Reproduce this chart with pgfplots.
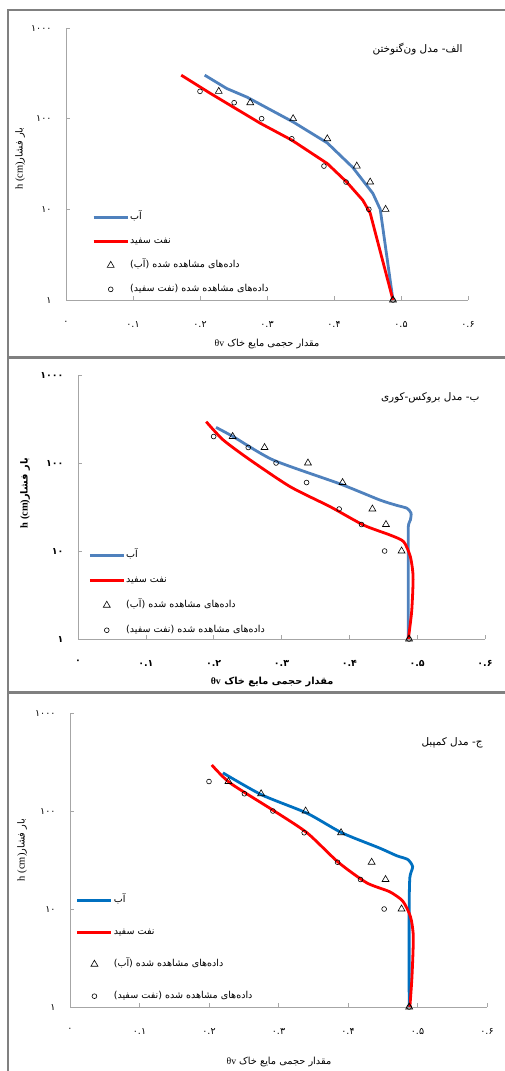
\documentclass[border=0pt]{standalone}
\usepackage{fontspec}
\usepackage{pgfplots}
\pgfplotsset{compat=1.18}
\usepackage{pgfplotstable}
\setmainfont{Liberation Serif}
\newfontfamily\fa[Script=Arabic]{DejaVu Sans}
\TeXXeTstate=1
\definecolor{bluea}{RGB}{79,129,189}
\definecolor{blueb}{RGB}{0,112,192}
\definecolor{redl}{RGB}{255,0,0}
\definecolor{frame}{RGB}{128,128,128}
\newcommand{\fs}[1]{\fontsize{#1}{#1}\selectfont}

% observed data, same in all three panels
\pgfplotstableread{
theta h
0.228 200
0.275 150
0.339 100
0.390 60
0.434 30
0.454 20
0.477 10
0.488 1
}\obswater
\pgfplotstableread{
theta h
0.200 200
0.251 150
0.292 100
0.337 60
0.385 30
0.418 20
0.452 10
0.488 1
}\obskero

\pgfplotsset{
  mypanel/.style={
    scale only axis,
    xmin=0, xmax=0.6, ymin=1, ymax=1000,
    axis lines=left,
    axis line style={-, draw=gray!70, line width=0.8bp},
    tick align=inside,
    major tick length=4bp,
    tick style={draw=gray!70, line width=0.6bp},
    xtick={0,0.1,0.2,0.3,0.4,0.5,0.6},
    xticklabels={۰,۰.۱,۰.۲,۰.۳,۰.۴,۰.۵,۰.۶},
    ytick={1,10,100,1000},
    yticklabels={۱,۱۰,۱۰۰,۱۰۰۰},
    yminorticks=false,
    xticklabel style={yshift=-18bp},
    yticklabel style={xshift=-11bp},
    ticklabel style={font=\fa\fs{9.5}},
    label style={font=\fa\fs{9.8}},
    legend style={draw=none, fill=none, font=\fa\fs{9.6},
      cells={anchor=west}, inner sep=0bp,
      nodes={inner sep=1bp, text height=6bp, text depth=2bp}},
    legend cell align=left,
  },
  mline/.style={line width=2.8bp, no marks,
    legend image code/.code={\draw[##1] (0bp,0bp) -- (34bp,0bp);}},
  wmark/.style={only marks, mark=triangle, mark size=4bp,
    mark options={draw=black, line width=0.6bp},
    legend image code/.code={\draw[##1] plot coordinates {(17bp,0bp)};}},
  kmark/.style={only marks, mark=o, mark size=2.4bp,
    mark options={draw=black, line width=0.6bp},
    legend image code/.code={\draw[##1] plot coordinates {(17bp,0bp)};}},
}

\begin{document}
\begin{tikzpicture}
\useasboundingbox (0,0) rectangle (505bp,-1071bp);
\clip (0,0) rectangle (505bp,-1071bp);

% ---------- panel 1: van Genuchten ----------
\draw[frame, line width=2.5bp] (8bp,-10bp) rectangle (520bp,-357bp);
\begin{axis}[ymode=log, mypanel, at={(66bp,-300bp)}, anchor=south west,
  width=402bp, height=272bp,
  xlabel={\beginR مقدار حجمی مایع خاک \beginL{\rmfamily θv}\endL\endR},
  xlabel style={at={(axis description cs:0.5,-0.162)}, anchor=center},
  ylabel={{\rmfamily\fs{10.5}h (cm)}{\beginR بار فشار\endR}},
  ylabel style={at={(axis description cs:-0.114,0.52)}, anchor=center},
  legend style={at={(0.065,0.323)}, anchor=north west, row sep=14bp}]
\addplot[mline, bluea] coordinates {
  (0.207,302) (0.240,215) (0.270,173) (0.339,92) (0.390,54)
  (0.428,29) (0.458,15) (0.469,10) (0.488,1)};
\addlegendentry{\beginR آب\endR}
\addplot[mline, redl] coordinates {
  (0.172,302) (0.215,191) (0.290,89) (0.337,58) (0.390,32)
  (0.419,20) (0.443,12.6) (0.454,9.1) (0.488,1)};
\addlegendentry{\beginR نفت سفید\endR}
\addplot[wmark] table[x=theta, y=h] {\obswater};
\addlegendentry{\beginR داده^^^^200cهای مشاهده شده (آب)\endR}
\addplot[kmark] table[x=theta, y=h] {\obskero};
\addlegendentry{\beginR داده^^^^200cهای مشاهده شده (نفت سفید)\endR}
\node[anchor=east, font=\fa\fs{10.5}] at (rel axis cs:0.995,0.923)
  {\beginR الف- مدل ون^^^^200cگنوختن\endR};
\end{axis}

% ---------- panel 2: Brooks-Corey ----------
\draw[frame, line width=2.5bp] (8bp,-358bp) rectangle (520bp,-692bp);
\begin{axis}[ymode=log, mypanel, at={(78bp,-639bp)}, anchor=south west,
  width=407bp, height=264bp,
  ticklabel style={font=\fa\bfseries\fs{9.5}},
  label style={font=\fa\bfseries\fs{9.8}},
  xlabel={\beginR مقدار حجمی مایع خاک \beginL{\rmfamily\bfseries θv}\endL\endR},
  xlabel style={at={(axis description cs:0.477,-0.163)}, anchor=center},
  ylabel={{\rmfamily\bfseries\fs{10.5}h (cm)}{\beginR بار فشار\endR}},
  ylabel style={at={(axis description cs:-0.130,0.553)}, anchor=center},
  legend style={at={(0.025,0.337)}, anchor=north west, row sep=15bp}]
\addplot[mline, bluea, smooth, tension=0.4] coordinates {
  (0.2035,254) (0.229,199) (0.288,108) (0.386,58) (0.445,38) (0.470,33)
  (0.485,30.6) (0.491,26.9) (0.490,22.5) (0.487,18.9) (0.487,8) (0.487,1)};
\addlegendentry{\beginR آب\endR}
\addplot[mline, redl, smooth, tension=0.4] coordinates {
  (0.189,295) (0.214,183) (0.254,108) (0.313,53.7) (0.372,31.8)
  (0.421,19.7) (0.460,15.2) (0.480,12.8) (0.490,8.6) (0.494,5.1)
  (0.492,2.1) (0.487,1)};
\addlegendentry{\beginR نفت سفید\endR}
\addplot[wmark] table[x=theta, y=h] {\obswater};
\addlegendentry{\beginR داده^^^^200cهای مشاهده شده (آب)\endR}
\addplot[kmark] table[x=theta, y=h] {\obskero};
\addlegendentry{\beginR داده^^^^200cهای مشاهده شده (نفت سفید)\endR}
\node[anchor=east, font=\fa\fs{10.5}] at (rel axis cs:0.995,0.913)
  {\beginR ب- مدل بروکس-کوری\endR};
\end{axis}

% ---------- panel 3: Campbell ----------
\draw[frame, line width=2.5bp] (8bp,-693bp) rectangle (520bp,-1090bp);
\begin{axis}[ymode=log, mypanel, at={(70bp,-1007bp)}, anchor=south west,
  width=417bp, height=294bp,
  xlabel={\beginR مقدار حجمی مایع خاک \beginL{\rmfamily θv}\endL\endR},
  xlabel style={at={(axis description cs:0.501,-0.187)}, anchor=center},
  ylabel={{\rmfamily\fs{10.5}h (cm)}{\beginR بار فشار\endR}},
  ylabel style={at={(axis description cs:-0.115,0.534)}, anchor=center},
  legend style={at={(0.014,0.381)}, anchor=north west, row sep=22bp}]
\addplot[mline, blueb, smooth, tension=0.4] coordinates {
  (0.220,245) (0.276,146) (0.341,95) (0.391,60) (0.445,42) (0.470,35)
  (0.486,32) (0.493,27) (0.489,21) (0.488,10) (0.488,1)};
\addlegendentry{\beginR آب\endR}
\addplot[mline, redl, smooth, tension=0.4] coordinates {
  (0.204,295) (0.230,194) (0.292,102) (0.341,60) (0.386,30)
  (0.427,18.5) (0.460,15) (0.479,12) (0.490,8.3) (0.494,5.2)
  (0.492,2) (0.489,1)};
\addlegendentry{\beginR نفت سفید\endR}
\addplot[wmark] table[x=theta, y=h] {\obswater};
\addlegendentry{\beginR داده^^^^200cهای مشاهده شده (آب)\endR}
\addplot[kmark] table[x=theta, y=h] {\obskero};
\addlegendentry{\beginR داده^^^^200cهای مشاهده شده (نفت سفید)\endR}
\node[anchor=east, font=\fa\fs{10.5}] at (rel axis cs:0.998,0.898)
  {\beginR ج- مدل کمپبل\endR};
\end{axis}
\end{tikzpicture}
\end{document}
